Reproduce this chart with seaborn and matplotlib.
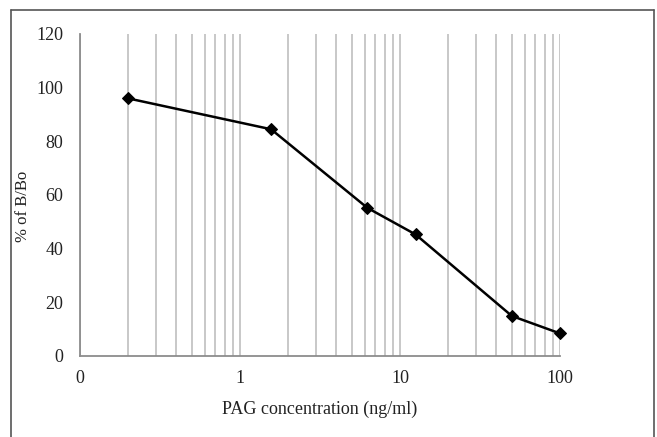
import matplotlib
matplotlib.use("Agg")
import matplotlib.pyplot as plt
from matplotlib.lines import Line2D
from matplotlib.ticker import FixedLocator, FixedFormatter, LogLocator, NullFormatter
import pandas as pd
import seaborn as sns

# PAG standard curve
concentration = [0.2, 1.5625, 6.25, 12.5, 50, 100]
pct_b_bo = [96.0, 84.5, 55.2, 45.3, 14.9, 8.4]

x_ticks = [0.1, 1, 10, 100]
x_tick_labels = ['0', '1', '10', '100']
y_ticks = [0, 20, 40, 60, 80, 100, 120]

df = pd.DataFrame({'conc': concentration, 'bbo': pct_b_bo})

sns.set_style('white')
plt.rcParams['font.family'] = ['Liberation Serif', 'DejaVu Serif']

fig = plt.figure(figsize=(6.57, 4.37), dpi=100)
ax = fig.add_axes([0.1218, 0.1854, 0.7306, 0.7368])

grey = '#bfbfbf'
ax.set_xscale('log')
ax.set_xlim(0.1, 100)
ax.set_ylim(0, 120)

# vertical grid lines at every log step
ax.xaxis.set_major_locator(FixedLocator(x_ticks))
ax.xaxis.set_major_formatter(FixedFormatter(x_tick_labels))
ax.xaxis.set_minor_locator(LogLocator(base=10, subs=range(2, 10)))
ax.xaxis.set_minor_formatter(NullFormatter())
ax.grid(True, which='both', axis='x', color=grey, lw=1.2)
ax.grid(False, axis='y')
ax.set_yticks(y_ticks)

sns.lineplot(data=df, x='conc', y='bbo', ax=ax, color='black', lw=1.8,
             marker='D', markersize=6, markeredgecolor='black', zorder=5,
             clip_on=False)

for s in ['top', 'right']:
    ax.spines[s].set_visible(False)
for s in ['left', 'bottom']:
    ax.spines[s].set_color('#8c8c8c')
    ax.spines[s].set_linewidth(1.3)

ax.tick_params(axis='both', which='major', direction='out', length=5, width=1.2,
               color='#8c8c8c', labelsize=13, labelcolor='#222222')
ax.tick_params(axis='x', which='minor', length=0)
ax.tick_params(axis='x', which='major', pad=5)
ax.tick_params(axis='y', which='major', pad=7)

ax.set_xlabel('PAG concentration (ng/ml)', fontsize=13, color='#222222', labelpad=10)
ax.set_ylabel('% of B/Bo', fontsize=12, color='#222222')
ax.yaxis.set_label_coords(-0.102, 0.466)

# frame around the figure (open at the bottom)
fc = '#555555'
x0, x1, yt = 11 / 657, 654 / 657, 1 - 10 / 437
fig.add_artist(Line2D([x0, x0], [0, yt], color=fc, lw=1.2))
fig.add_artist(Line2D([x0, x1], [yt, yt], color=fc, lw=1.2))
fig.add_artist(Line2D([x1, x1], [0, yt], color=fc, lw=1.2))

fig.savefig('out.png', dpi=100)
